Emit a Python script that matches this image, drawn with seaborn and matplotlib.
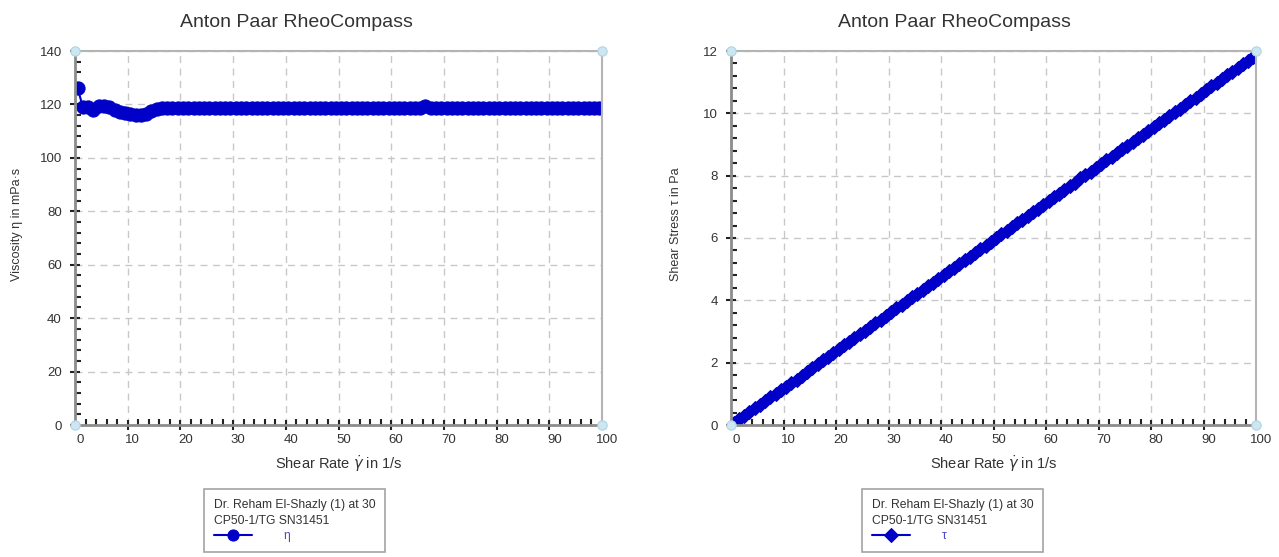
"""
Anton Paar RheoCompass - flow curve: viscosity and shear stress vs shear rate
"""
import pandas as pd
import numpy as np
import matplotlib.pyplot as plt
import matplotlib.transforms as mtransforms
import seaborn as sns
from matplotlib.ticker import MultipleLocator

sns.set_style("white")
plt.rcParams['font.family'] = ['Liberation Sans', 'DejaVu Sans']
plt.rcParams['mathtext.fontset'] = 'dejavusans'

# Shear rate in 1/s
shear_rate = [
    0.5, 1.5, 2.5, 3.5, 4.5, 5.5, 6.5, 7.5, 8.5, 9.5,
    10.5, 11.5, 12.5, 13.5, 14.5, 15.5, 16.5, 17.5, 18.5, 19.5,
    20.5, 21.5, 22.5, 23.5, 24.5, 25.5, 26.5, 27.5, 28.5, 29.5,
    30.5, 31.5, 32.5, 33.5, 34.5, 35.5, 36.5, 37.5, 38.5, 39.5,
    40.5, 41.5, 42.5, 43.5, 44.5, 45.5, 46.5, 47.5, 48.5, 49.5,
    50.5, 51.5, 52.5, 53.5, 54.5, 55.5, 56.5, 57.5, 58.5, 59.5,
    60.5, 61.5, 62.5, 63.5, 64.5, 65.5, 66.5, 67.5, 68.5, 69.5,
    70.5, 71.5, 72.5, 73.5, 74.5, 75.5, 76.5, 77.5, 78.5, 79.5,
    80.5, 81.5, 82.5, 83.5, 84.5, 85.5, 86.5, 87.5, 88.5, 89.5,
    90.5, 91.5, 92.5, 93.5, 94.5, 95.5, 96.5, 97.5, 98.5, 99.5,
]

# Viscosity in mPa·s
viscosity = [
    126.0, 119.0, 119.0, 118.0, 119.5, 119.5, 119.0, 118.0, 117.0, 116.8,
    116.5, 116.2, 116.0, 116.6, 117.5, 118.3, 118.7, 118.7, 118.8, 118.7,
    118.7, 118.8, 118.7, 118.7, 118.6, 118.7, 118.7, 118.8, 118.7, 118.7,
    118.7, 118.7, 118.8, 118.7, 118.6, 118.7, 118.7, 118.7, 118.6, 118.7,
    118.7, 118.7, 118.7, 118.6, 118.7, 118.7, 118.7, 118.7, 118.7, 118.6,
    118.7, 118.7, 118.7, 118.6, 118.7, 118.7, 118.7, 118.7, 118.6, 118.7,
    118.7, 118.6, 118.7, 118.7, 118.7, 118.8, 119.3, 118.8, 118.7, 118.7,
    118.7, 118.6, 118.7, 118.7, 118.7, 118.7, 118.6, 118.7, 118.7, 118.7,
    118.7, 118.6, 118.7, 118.7, 118.7, 118.7, 118.7, 118.6, 118.7, 118.7,
    118.7, 118.7, 118.6, 118.7, 118.7, 118.7, 118.7, 118.6, 118.7, 118.7,
]

# Shear stress in Pa
shear_stress = [
    0.063, 0.179, 0.298, 0.413, 0.538, 0.657, 0.774, 0.885, 0.995, 1.110,
    1.223, 1.336, 1.450, 1.574, 1.704, 1.834, 1.959, 2.077, 2.196, 2.315,
    2.433, 2.552, 2.671, 2.789, 2.908, 3.027, 3.146, 3.264, 3.383, 3.502,
    3.620, 3.739, 3.858, 3.976, 4.095, 4.214, 4.333, 4.451, 4.570, 4.689,
    4.807, 4.926, 5.045, 5.163, 5.282, 5.401, 5.520, 5.638, 5.757, 5.876,
    5.994, 6.113, 6.232, 6.350, 6.469, 6.588, 6.707, 6.825, 6.944, 7.063,
    7.181, 7.300, 7.419, 7.537, 7.656, 7.775, 7.933, 8.012, 8.131, 8.250,
    8.368, 8.487, 8.606, 8.724, 8.843, 8.962, 9.081, 9.199, 9.318, 9.437,
    9.555, 9.674, 9.793, 9.911, 10.030, 10.149, 10.268, 10.386, 10.505, 10.624,
    10.742, 10.861, 10.980, 11.098, 11.217, 11.336, 11.455, 11.573, 11.692, 11.811,
]

df = pd.DataFrame({'rate': shear_rate, 'eta': viscosity, 'tau': shear_stress})

sample_name = 'Dr. Reham El-Shazly (1) at 30\nCP50-1/TG SN31451'
title = 'Anton Paar RheoCompass'
xlabel = r'Shear Rate $\dot{\gamma}$ in 1/s'

line_color = '#0000c8'
text_color = '#333333'
corner_color = '#cde6f2'

W, H = 1279, 557
fig = plt.figure(figsize=(W / 100, H / 100), dpi=100)


def fpos(x0, x1, y0, y1):
    # pixel box -> figure fraction [left, bottom, width, height]
    return [x0 / W, 1 - y1 / H, (x1 - x0) / W, (y1 - y0) / H]


ax1 = fig.add_axes(fpos(75, 602, 51, 425))
ax2 = fig.add_axes(fpos(731, 1256, 51, 425))

# ax, column, ymax, major, minor, ylabel, marker, size, line width, symbol,
# title x, ylabel x, legend left (px)
panels = [
    (ax1, 'eta', 140, 20, 4, 'Viscosity \u03b7 in mPa\u00b7s', 'o', 9.5, 1.5, '\u03b7',
     0.42, -0.099, 204),
    (ax2, 'tau', 12, 2, 0.4, 'Shear Stress \u03c4 in Pa', 'D', 7.5, 3.5, '\u03c4',
     0.425, -0.093, 862),
]

shift = mtransforms.ScaledTranslation(5 / 100, 0, fig.dpi_scale_trans)

for ax, col, ymax, ymaj, ymin_step, ylab, mk, ms, lw, sym, tx, ylx, leg_x in panels:
    sns.lineplot(data=df, x='rate', y=col, ax=ax, color=line_color,
                 marker=mk, markersize=ms, markeredgecolor=line_color,
                 linewidth=lw, label=sym, legend=False)
    ax.set_xlim(0, 100)
    ax.set_ylim(0, ymax)
    ax.xaxis.set_major_locator(MultipleLocator(10))
    ax.xaxis.set_minor_locator(MultipleLocator(2))
    ax.yaxis.set_major_locator(MultipleLocator(ymaj))
    ax.yaxis.set_minor_locator(MultipleLocator(ymin_step))
    ax.grid(True, which='major', color='#c8c8c8', linestyle=(0, (5, 4)), linewidth=1)
    ax.tick_params(which='major', direction='inout', length=7, width=1.5,
                   color='#222222', labelsize=9.5, labelcolor=text_color)
    ax.tick_params(which='minor', direction='in', length=4, width=1.5, color='#222222')
    ax.tick_params(axis='x', which='both', bottom=True, top=False, pad=3)
    ax.tick_params(axis='y', which='both', left=True, right=False, pad=6)
    for lbl in ax.get_xticklabels():
        lbl.set_transform(lbl.get_transform() + shift)
    for side in ['left', 'bottom']:
        ax.spines[side].set_color('#8c8c8c')
        ax.spines[side].set_linewidth(2)
    for side in ['top', 'right']:
        ax.spines[side].set_color('#b4b4b4')
        ax.spines[side].set_linewidth(1.5)
    ax.set_title(title, fontsize=14, color=text_color, pad=17, x=tx)
    ax.set_xlabel(xlabel, fontsize=10.5, color=text_color, labelpad=5)
    ax.set_ylabel(ylab, fontsize=9, color=text_color)
    ax.yaxis.set_label_coords(ylx, 0.537)
    # light blue markers on the plot frame corners
    ax.scatter([0, 0, 100, 100], [0, ymax, 0, ymax], s=45, color=corner_color,
               edgecolor='#b0d4e6', linewidth=0.8, zorder=5, clip_on=False)

    leg = ax.legend(title=sample_name, loc='upper left',
                    bbox_to_anchor=(leg_x / W, 1 - 489 / H),
                    bbox_transform=fig.transFigure, frameon=True, fancybox=False,
                    fontsize=8.7, title_fontsize=8.7, alignment='left',
                    handlelength=3.2, handletextpad=2.6, borderpad=0.8,
                    labelspacing=0.3, borderaxespad=0)
    leg.get_frame().set_edgecolor('#8c8c8c')
    leg.get_frame().set_linewidth(1.2)
    for h in leg.legend_handles:
        h.set_linewidth(1.5)
        h.set_markersize(8 if mk == 'o' else 7)
    plt.setp(leg.get_title(), color=text_color, multialignment='left', linespacing=1.45)
    for t in leg.get_texts():
        t.set_color('#4848c8')

fig.savefig('out.png', dpi=100)
